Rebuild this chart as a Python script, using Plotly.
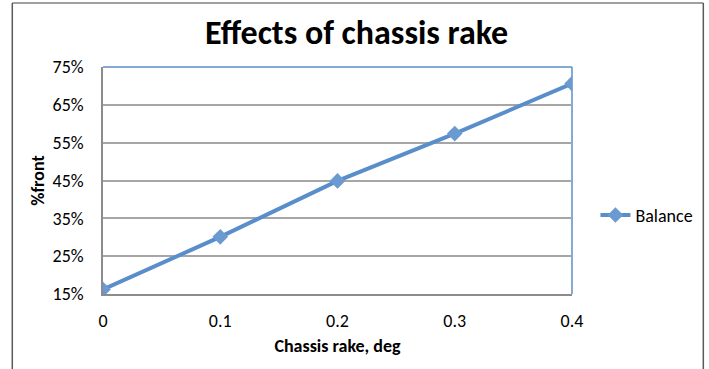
import plotly.graph_objects as go

rake_deg = [0, 0.1, 0.2, 0.3, 0.4]
balance_front = [0.162, 0.301, 0.449, 0.574, 0.706]
y_ticks = [0.15, 0.25, 0.35, 0.45, 0.55, 0.65, 0.75]
y_tick_labels = ["15%", "25%", "35%", "45%", "55%", "65%", "75%"]
x_ticks = [0, 0.1, 0.2, 0.3, 0.4]
x_tick_labels = ["0", "0.1", "0.2", "0.3", "0.4"]

FONT = "Carlito, Calibri, 'Open Sans', sans-serif"
BLUE = "#5A8ECA"
GRID = "#A6A6A6"

fig = go.Figure()
fig.add_trace(go.Scatter(
    x=rake_deg, y=balance_front, mode="lines+markers", name="Balance",
    line=dict(color=BLUE, width=4),
    marker=dict(symbol="diamond", size=12, color="#6B9AD0"),
))

fig.update_layout(
    width=709, height=369,
    margin=dict(l=103, r=137, t=67, b=75, autoexpand=False),
    paper_bgcolor="white", plot_bgcolor="white",
    font=dict(family=FONT, size=18, color="black"),
    title=dict(text="<b>Effects of chassis rake</b>", x=0.503, xanchor="center",
               y=0.913, yanchor="middle", font=dict(size=34, family=FONT)),
    showlegend=True,
    legend=dict(x=1.05, y=0.347, xanchor="left", yanchor="middle",
                font=dict(size=18, family=FONT), bgcolor="rgba(0,0,0,0)",
                itemwidth=30),
    xaxis=dict(range=[0, 0.4], tickvals=x_ticks, ticktext=x_tick_labels,
               showgrid=False, zeroline=False, showline=True, linecolor="#8C8C8C",
               linewidth=1.5, ticks="", ticklabelstandoff=10, automargin=False,
               title=dict(text="<b>Chassis rake, deg</b>", font=dict(size=18), standoff=8)),
    yaxis=dict(range=[0.15, 0.75], tickvals=y_ticks, ticktext=y_tick_labels,
               showgrid=True, gridcolor=GRID, gridwidth=1.5, zeroline=False,
               showline=True, linecolor="#8C8C8C", linewidth=1.5, ticks="",
               ticklabelstandoff=14, automargin=False,
               title=dict(text="<b>%front</b>", font=dict(size=18), standoff=3)),
    shapes=[
        dict(type="line", xref="x domain", yref="y domain", x0=0, x1=1, y0=1, y1=1,
             line=dict(color="#5B8FC9", width=1.5), layer="below"),
        dict(type="line", xref="x domain", yref="y domain", x0=1, x1=1, y0=0, y1=1,
             line=dict(color="#5B8FC9", width=1.5), layer="below"),
        dict(type="line", xref="paper", yref="paper", x0=-0.1934, x1=1.2800, y0=1.2815, y1=1.2815,
             line=dict(color="#7F7F7F", width=1.5)),
        dict(type="line", xref="paper", yref="paper", x0=-0.1934, x1=-0.1934, y0=1.2815, y1=-0.4,
             line=dict(color="#595959", width=1.5)),
        dict(type="line", xref="paper", yref="paper", x0=1.2800, x1=1.2800, y0=1.2815, y1=-0.4,
             line=dict(color="#595959", width=1.5)),
    ],
)

fig.write_html("out.html")
